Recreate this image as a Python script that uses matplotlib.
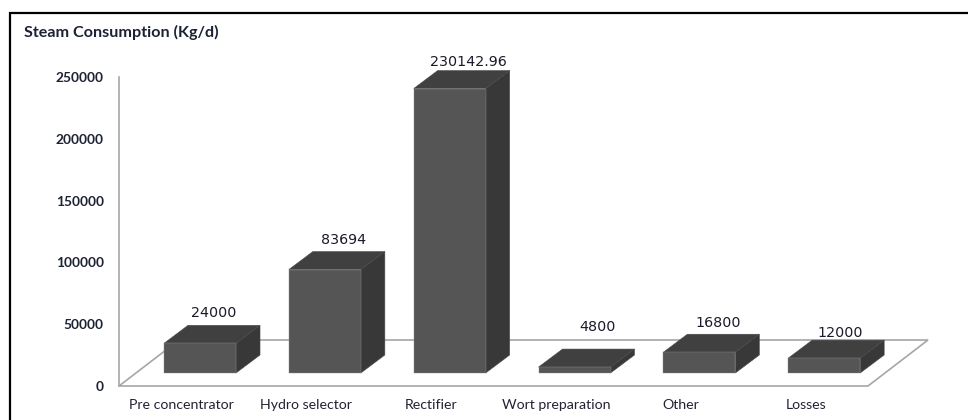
import matplotlib
matplotlib.use("Agg")
import matplotlib.pyplot as plt
from matplotlib.lines import Line2D

categories = ["Pre concentrator", "Hydro selector", "Rectifier",
              "Wort preparation", "Other", "Losses"]
values = [24000, 83694, 230142.96, 4800, 16800, 12000]
value_labels = ["24000", "83694", "230142.96", "4800", "16800", "12000"]
y_ticks = [0, 50000, 100000, 150000, 200000, 250000]

W, H = 968, 420
fig = plt.figure(figsize=(W / 100, H / 100), dpi=100, facecolor="white")

# Plot area in pixels: front floor edge and left wall
left, right, top, bottom = 119, 868, 77, 386
ax = fig.add_axes([left / W, 1 - bottom / H, (right - left) / W, (bottom - top) / H])
ax.set_xlim(-0.5, 5.5)
ax.set_ylim(0, 250000)
ax.patch.set_visible(False)

px_x = (right - left) / 6        # pixels per category
px_y = (bottom - top) / 250000   # pixels per unit of steam


def dx(p):
    return p / px_x


def dy(p):
    return p / px_y


# Floor of the 3D box
floor_x = [-0.5, 5.5, 5.5 + dx(60), -0.5 + dx(60)]
floor_y = [0, 0, dy(46), dy(46)]
ax.fill(floor_x, floor_y, facecolor="white", edgecolor="#a6a6a6", lw=1.2,
        clip_on=False, zorder=1)

# Extruded bars: front, top and side faces
width = 72 / px_x
shift_x, shift_y = dx(18.6), dy(13)
depth_x, depth_y = dx(24), dy(18)
edge = "#8a8a8a"
for i, v in enumerate(values):
    x0 = i + shift_x - width / 2
    x1 = x0 + width
    b = shift_y
    t = shift_y + v
    ax.fill([x0, x1, x1 + depth_x, x0 + depth_x],
            [t, t, t + depth_y, t + depth_y],
            facecolor="#404040", edgecolor="#4a4a4a", lw=0.4, clip_on=False, zorder=3)
    ax.fill([x1, x1 + depth_x, x1 + depth_x, x1],
            [b, b + depth_y, t + depth_y, t],
            facecolor="#383838", edgecolor="#4a4a4a", lw=0.4, clip_on=False, zorder=3)
    ax.bar(x0, v, width=width, bottom=b, align="edge", color="#555555",
           edgecolor=edge, lw=0.3, clip_on=False, zorder=3)

# Value labels sit above the top face
nudges = [(14, 12), (18.5, 12), (18.5, 9), (23, 22), (18.5, 11.5), (16.5, 7)]
for i, (v, s, (nx, ny)) in enumerate(zip(values, value_labels, nudges)):
    ax.text(i + shift_x + dx(nx), shift_y + v + depth_y + dy(ny), s,
            ha="center", va="center", fontsize=10.3, color="#1a1a2a",
            family="DejaVu Sans", zorder=5, clip_on=False)

ax.set_xticks(range(len(categories)))
ax.set_xticklabels(categories, fontsize=10.2, family="Lato", color="#222233")
ax.set_yticks(y_ticks)
ax.set_yticklabels([str(t) for t in y_ticks], fontsize=9.9, family="Lato",
                   fontweight="bold", color="#1c2233")
ax.tick_params(axis="x", length=0, pad=9.5)
ax.tick_params(axis="y", length=0, pad=11)
for name in ("top", "right", "bottom"):
    ax.spines[name].set_visible(False)
ax.spines["left"].set_color("#a6a6a6")
ax.spines["left"].set_linewidth(1.2)

# Chart title
fig.text(24 / W, 1 - 32 / H, "Steam Consumption (Kg/d)", fontsize=11.6,
         family="Lato", fontweight="bold", color="#1c2233", va="center", ha="left")

# Black frame along the left and top edges
frame_x = [9.5 / W, 9.5 / W, 1]
frame_y = [0, 1 - 12.5 / H, 1 - 12.5 / H]
fig.add_artist(Line2D(frame_x, frame_y, transform=fig.transFigure,
                      color="black", lw=1.6, solid_joinstyle="miter"))

fig.savefig("out.png", dpi=100)
